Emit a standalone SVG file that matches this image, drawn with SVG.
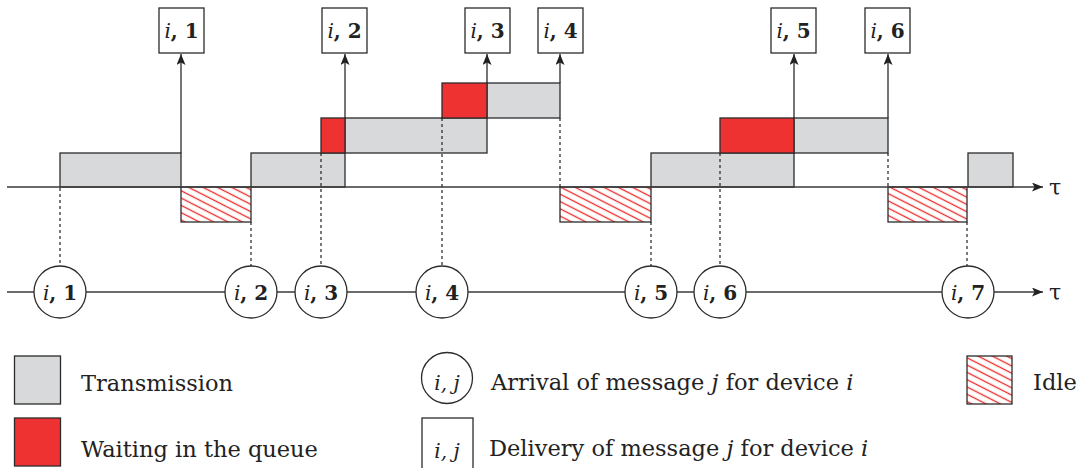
<svg xmlns="http://www.w3.org/2000/svg" width="1077" height="468" viewBox="0 0 1077 468">
<style>
.tx{fill:#d8d9db;stroke:#2b2b2b;stroke-width:1.3}
.wq{fill:#ee3231;stroke:#2b2b2b;stroke-width:1.3}
.idle{fill:url(#hatch);stroke:#2b2b2b;stroke-width:1.3}
.box{fill:#fff;stroke:#2b2b2b;stroke-width:1.3}
.axis{stroke:#3a3a3a;stroke-width:1.5;fill:none}
.arr{stroke:#2b2b2b;stroke-width:1.3;fill:none}
.dash{stroke:#222;stroke-width:1.2;stroke-dasharray:3 3;fill:none}
text{font-family:"DejaVu Serif","Liberation Serif",serif;fill:#222}
.lbl{font-size:20px;text-anchor:middle}
.it{font-style:italic}
.b{font-weight:bold}
.leg{font-size:22.5px}
</style>
<defs>
<pattern id="hatch" patternUnits="userSpaceOnUse" width="12" height="6.5" patternTransform="rotate(27)">
<rect x="0" y="0" width="12" height="6.5" fill="#fff"/>
<line x1="-1" y1="3.25" x2="13" y2="3.25" stroke="#ec2a2a" stroke-width="1.3"/>
</pattern>
<marker id="ah" markerUnits="userSpaceOnUse" markerWidth="12" markerHeight="10" refX="11" refY="4.5" orient="auto">
<path d="M0,0 L11,4.5 L0,9 L2.5,4.5 z" fill="#222"/>
</marker>
</defs>

<g id="blocks">
<rect class="idle" x="181" y="187" width="70" height="35"/>
<rect class="idle" x="560" y="187" width="91" height="35"/>
<rect class="idle" x="888" y="187" width="79" height="35"/>
<rect class="tx" x="60" y="153" width="121" height="34"/>
<rect class="tx" x="251" y="153" width="94" height="34"/>
<rect class="tx" x="651" y="153" width="143" height="34"/>
<rect class="tx" x="968" y="153" width="45" height="34"/>
<rect class="tx" x="345" y="118" width="142" height="35"/>
<rect class="tx" x="794" y="118" width="94" height="35"/>
<rect class="tx" x="487" y="83" width="73" height="35"/>
<rect class="wq" x="321" y="118" width="24" height="35"/>
<rect class="wq" x="442" y="83" width="45" height="35"/>
<rect class="wq" x="720" y="118" width="74" height="35"/>
</g>

<g id="connectors">
<line class="axis" x1="7" y1="187" x2="1043" y2="187" marker-end="url(#ah)"/>
<line class="axis" x1="7" y1="292" x2="1043" y2="292" marker-end="url(#ah)"/>
<line class="arr" x1="181" y1="153" x2="181" y2="54" marker-end="url(#ah)"/>
<line class="arr" x1="345" y1="118" x2="345" y2="54" marker-end="url(#ah)"/>
<line class="arr" x1="487" y1="83" x2="487" y2="54" marker-end="url(#ah)"/>
<line class="arr" x1="560" y1="83" x2="560" y2="54" marker-end="url(#ah)"/>
<line class="arr" x1="794" y1="118" x2="794" y2="54" marker-end="url(#ah)"/>
<line class="arr" x1="888" y1="118" x2="888" y2="54" marker-end="url(#ah)"/>
<line class="dash" x1="60" y1="188" x2="60" y2="266"/>
<line class="dash" x1="251" y1="222" x2="251" y2="266"/>
<line class="dash" x1="321" y1="153" x2="321" y2="266"/>
<line class="dash" x1="442" y1="118" x2="442" y2="266"/>
<line class="dash" x1="560" y1="118" x2="560" y2="187"/>
<line class="dash" x1="651" y1="222" x2="651" y2="266"/>
<line class="dash" x1="720" y1="153" x2="720" y2="266"/>
<line class="dash" x1="888" y1="153" x2="888" y2="187"/>
<line class="dash" x1="967" y1="222" x2="967" y2="266"/>
</g>
<text x="1049" y="195" style="font-size:22px">τ</text>
<text x="1049" y="300" style="font-size:22px">τ</text>

<g id="d1"><rect class="box" x="159" y="8" width="45" height="45"/><text class="lbl" x="181.5" y="38"><tspan class="it">i</tspan><tspan class="b">, 1</tspan></text></g>
<g id="d2"><rect class="box" x="322" y="8" width="45" height="45"/><text class="lbl" x="344.5" y="38"><tspan class="it">i</tspan><tspan class="b">, 2</tspan></text></g>
<g id="d3"><rect class="box" x="465" y="8" width="45" height="45"/><text class="lbl" x="487.5" y="38"><tspan class="it">i</tspan><tspan class="b">, 3</tspan></text></g>
<g id="d4"><rect class="box" x="538" y="8" width="45" height="45"/><text class="lbl" x="560.5" y="38"><tspan class="it">i</tspan><tspan class="b">, 4</tspan></text></g>
<g id="d5"><rect class="box" x="771" y="8" width="45" height="45"/><text class="lbl" x="793.5" y="38"><tspan class="it">i</tspan><tspan class="b">, 5</tspan></text></g>
<g id="d6"><rect class="box" x="865" y="8" width="45" height="45"/><text class="lbl" x="887.5" y="38"><tspan class="it">i</tspan><tspan class="b">, 6</tspan></text></g>

<g id="a1"><circle class="box" cx="60" cy="292" r="26"/><text class="lbl" x="60" y="300"><tspan class="it">i</tspan><tspan class="b">, 1</tspan></text></g>
<g id="a2"><circle class="box" cx="251" cy="292" r="26"/><text class="lbl" x="251" y="300"><tspan class="it">i</tspan><tspan class="b">, 2</tspan></text></g>
<g id="a3"><circle class="box" cx="321" cy="292" r="26"/><text class="lbl" x="321" y="300"><tspan class="it">i</tspan><tspan class="b">, 3</tspan></text></g>
<g id="a4"><circle class="box" cx="442" cy="292" r="26"/><text class="lbl" x="442" y="300"><tspan class="it">i</tspan><tspan class="b">, 4</tspan></text></g>
<g id="a5"><circle class="box" cx="651" cy="292" r="26"/><text class="lbl" x="651" y="300"><tspan class="it">i</tspan><tspan class="b">, 5</tspan></text></g>
<g id="a6"><circle class="box" cx="720" cy="292" r="26"/><text class="lbl" x="720" y="300"><tspan class="it">i</tspan><tspan class="b">, 6</tspan></text></g>
<g id="a7"><circle class="box" cx="968" cy="292" r="26"/><text class="lbl" x="968" y="300"><tspan class="it">i</tspan><tspan class="b">, 7</tspan></text></g>

<g id="legend">
<rect class="tx" x="14.5" y="356" width="46" height="48"/>
<text class="leg" x="81" y="391">Transmission</text>
<rect class="wq" x="14.5" y="418" width="46" height="48"/>
<text class="leg" x="81" y="457">Waiting in the queue</text>
<circle class="box" cx="447" cy="378" r="25.5"/>
<text class="it" x="447" y="390" style="font-size:20px;text-anchor:middle">i, j</text>
<text class="leg" x="491" y="390">Arrival of message <tspan class="it">j</tspan> for device <tspan class="it">i</tspan></text>
<rect class="box" x="422" y="418" width="51" height="60"/>
<text class="it" x="447" y="458" style="font-size:20px;text-anchor:middle">i, j</text>
<text class="leg" x="489" y="456">Delivery of message <tspan class="it">j</tspan> for device <tspan class="it">i</tspan></text>
<rect class="idle" x="967" y="356" width="45" height="48"/>
<text class="leg" x="1033" y="390">Idle</text>
</g>
</svg>
